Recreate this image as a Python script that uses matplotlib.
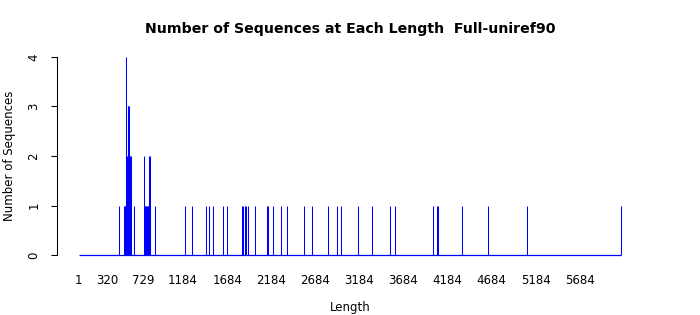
import matplotlib
matplotlib.use("Agg")
import matplotlib.pyplot as plt

# Sequence lengths and counts
lengths = [455, 513, 522, 529, 535, 541, 549, 557, 565, 573, 583, 589, 632,
           745, 752, 760, 768, 776, 784, 790, 797, 806, 814, 864,
           1202, 1283, 1442, 1474, 1519, 1642, 1680, 1848, 1867, 1885, 1899,
           1916, 1998, 2136, 2143, 2209, 2296, 2358, 2551, 2644, 2829, 2934,
           2980, 3163, 3324, 3531, 3592, 4023, 4062, 4072, 4351, 4639, 5090,
           6147]
counts = [1, 1, 1, 1, 4, 2, 2, 3, 3, 3, 2, 2, 1,
          2, 1, 1, 1, 1, 1, 1, 2, 2, 1, 1,
          1, 1, 1, 1, 1, 1, 1, 1, 1, 1, 1,
          1, 1, 1, 1, 1, 1, 1, 1, 1, 1, 1,
          1, 1, 1, 1, 1, 1, 1, 1, 1, 1, 1,
          1]
x_ticks = [1, 320, 729, 1184, 1684, 2184, 2684, 3184, 3684, 4184, 4684, 5184, 5684]
y_ticks = [0, 1, 2, 3, 4]
title = "Number of Sequences at Each Length  Full-uniref90"

W, H = 700, 315
fig = plt.figure(figsize=(W / 100, H / 100), dpi=100)
left, right, top, bottom = 57, 642.4, 49, 263
ax = fig.add_axes([left / W, (H - bottom) / H, (right - left) / W, (bottom - top) / H])

xmin, xmax = 1, max(lengths)
span = xmax - xmin
ax.set_xlim(xmin - 0.04 * span, xmax + 0.04 * span)
ax.set_ylim(-0.16, 4.16)

ax.vlines(lengths, 0, counts, colors="#0000ff", linewidth=0.75)
ax.hlines(0, xmin, xmax, colors="#0000ff", linewidth=0.9)

for s in ["top", "right", "bottom"]:
    ax.spines[s].set_visible(False)
ax.spines["left"].set_bounds(0, 4)
ax.spines["left"].set_linewidth(0.75)

ax.set_xticks(x_ticks)
ax.set_xticklabels([str(v) for v in x_ticks], fontsize=8.5)
ax.tick_params(axis="x", length=0, pad=8)
ax.set_yticks(y_ticks)
ax.set_yticklabels([str(v) for v in y_ticks], fontsize=8.5, rotation=90, va="center")
ax.tick_params(axis="y", length=4, width=0.75, pad=8)

fig.text(350 / W, 1 - 307 / H, "Length", ha="center", va="center", fontsize=8.5)
fig.text(10 / W, 1 - 156 / H, "Number of Sequences", ha="center", va="center",
         rotation=90, fontsize=8.5)
fig.text(350 / W, 1 - 29 / H, title, ha="center", va="center",
         fontsize=10.2, fontweight="bold")

fig.savefig("out.png", dpi=100)
